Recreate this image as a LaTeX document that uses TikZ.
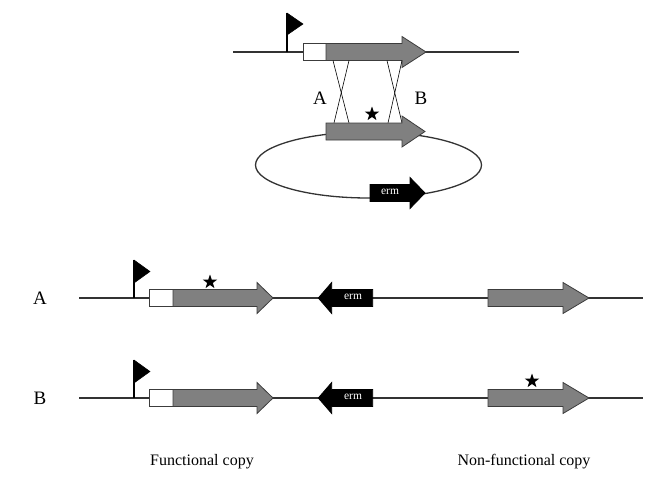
\documentclass[tikz,border=0pt]{standalone}
\usepackage{fontspec}
\setmainfont{Liberation Serif}
\usetikzlibrary{shapes.geometric}
\definecolor{genegray}{RGB}{128,128,128}
\definecolor{edgegray}{RGB}{60,60,60}
\tikzset{
  dna/.style={line width=1.3pt, draw=black!80},
  cross/.style={line width=0.6pt, draw=black},
  gene/.style={line width=0.8pt, draw=edgegray, fill=genegray},
  ermgene/.style={line width=0.8pt, draw=black, fill=black},
  promoter/.style={line width=0.8pt, draw=edgegray, fill=white},
  flagtri/.style={fill=black, draw=black, line width=0.5pt},
  pole/.style={line width=1.2pt, draw=black},
  starmark/.style={star, star points=5, star point ratio=2.5, fill=black, draw=none, minimum size=15pt, inner sep=0pt},
  lbl/.style={font=\fontsize{19}{22}\selectfont, inner sep=0pt},
  caption/.style={font=\fontsize{16}{19}\selectfont, inner sep=0pt},
  ermtext/.style={font=\fontsize{11.5}{13}\selectfont, text=white, inner sep=0pt}
}
% gene arrow: start x, head base x, tip x, centre y, style
\newcommand\genearrow[5]{%
  \path[#5] (#1,#4-8.5) -- (#2,#4-8.5) -- (#2,#4-15.5) -- (#3,#4) -- (#2,#4+15.5) -- (#2,#4+8.5) -- (#1,#4+8.5) -- cycle;}
\newcommand\promoterflag[2]{%
  \draw[pole] (#1,#2) -- (#1,#2-38);
  \path[flagtri] (#1,#2-38) -- (#1+16,#2-26.5) -- (#1,#2-15) -- cycle;}
\begin{document}
\begin{tikzpicture}[x=1pt,y=-1pt]
\useasboundingbox (0,0) rectangle (663,482);

% ---------- top: chromosome ----------
\draw[dna] (233,52) -- (519,52);
\draw[pole] (287,52) -- (287,13);
\path[flagtri] (287,13) -- (303,24) -- (287,35) -- cycle;
\path[promoter] (303,43.5) rectangle (326,60.5);
\genearrow{326}{402}{426}{52}{gene}

% crossover lines
\draw[cross] (333,60.5) -- (349,123);
\draw[cross] (349,60.5) -- (334,123);
\draw[cross] (387,60.5) -- (402,123);
\draw[cross] (402,60.5) -- (388,123);
\node[lbl] (lA) at (320,98) {A};
\node[lbl] (lB) at (421,98) {B};
\node[starmark] (s0) at (372,114) {};

% plasmid
\draw[dna] (368.5,165) ellipse [x radius=113, y radius=33];
\genearrow{326}{402}{425}{131.5}{gene}
\genearrow{370}{410}{425}{193}{ermgene}
\node[ermtext] (e0) at (390,192) {erm};

% ---------- row A ----------
\node[lbl] (rA) at (40,298) {A};
\draw[dna] (79,298) -- (643,298);
\promoterflag{134}{298}
\path[promoter] (149,289.5) rectangle (173,306.5);
\genearrow{173}{257}{273}{298}{gene}
\node[starmark] (s1) at (210,282) {};
\genearrow{372.7}{331.7}{318.3}{298}{ermgene}
\node[ermtext] (e1) at (353,297) {erm};
\genearrow{488}{563}{589}{298}{gene}

% ---------- row B ----------
\node[lbl] (rB) at (40,398) {B};
\draw[dna] (79,398) -- (643,398);
\promoterflag{134}{398}
\path[promoter] (149,389.5) rectangle (173,406.5);
\genearrow{173}{257}{273}{398}{gene}
\genearrow{372.7}{331.7}{318.3}{398}{ermgene}
\node[ermtext] (e2) at (353,397) {erm};
\genearrow{488}{563}{589}{398}{gene}
\node[starmark] (s2) at (532,381) {};

% captions
\node[caption] (c1) at (202,462) {Functional copy};
\node[caption] (c2) at (524,462) {Non-functional copy};
\end{tikzpicture}
\end{document}
